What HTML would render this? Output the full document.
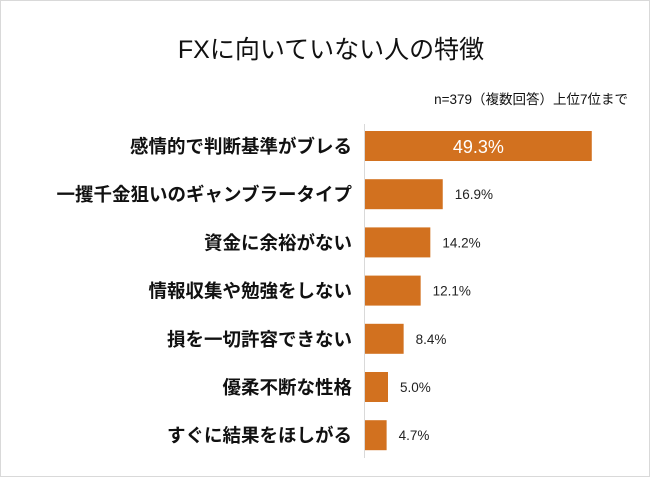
<!DOCTYPE html>
<html><head><meta charset="utf-8"><style>
html,body{margin:0;padding:0;background:#fff;}
body{width:650px;height:477px;overflow:hidden;font-family:"Liberation Sans","Noto Sans CJK JP",sans-serif;}
#frame{position:absolute;left:0;top:0;width:648px;height:475px;border:1px solid #d9d9d9;}
</style></head><body>
<div id="frame"></div>
<svg id="chart" width="650" height="477" style="position:absolute;left:0;top:0">
<text x="331" y="58" text-anchor="middle" font-size="25" fill="#111">FXに向いていない人の特徴</text>
<text x="628" y="104" text-anchor="end" font-size="13.5" fill="#111">n=379（複数回答）上位7位まで</text>
<line x1="364.5" y1="124" x2="364.5" y2="458" stroke="#d9d9d9" stroke-width="1"/>
<g id="bars"></g>
</svg>
<script>
const categories=["感情的で判断基準がブレる","一攫千金狙いのギャンブラータイプ","資金に余裕がない","情報収集や勉強をしない","損を一切許容できない","優柔不断な性格","すぐに結果をほしがる"];
const values=[49.3,16.9,14.2,12.1,8.4,5.0,4.7];
const valueLabels=["49.3%","16.9%","14.2%","12.1%","8.4%","5.0%","4.7%"];
const x0=365,pxPer=4.6,yTop=146,step=48.2,bh=30;
const xs=v=>x0+v*pxPer, ys=i=>yTop+i*step;
const g=document.getElementById('bars');const NS="http://www.w3.org/2000/svg";
categories.forEach((c,i)=>{
 const cy=ys(i);
 const r=document.createElementNS(NS,'rect');
 r.setAttribute('x',x0);r.setAttribute('y',cy-bh/2);r.setAttribute('width',xs(values[i])-x0);r.setAttribute('height',bh);r.setAttribute('fill','#d2711f');
 
 
 g.appendChild(r);
 const t=document.createElementNS(NS,'text');
 t.setAttribute('x',352);t.setAttribute('y',cy+7);t.setAttribute('text-anchor','end');t.setAttribute('font-size','18.5');t.setAttribute('font-weight','bold');t.setAttribute('fill','#111');t.textContent=c;
 
 
 g.appendChild(t);
 const v=document.createElementNS(NS,'text');
 if(i===0){v.setAttribute('x',(x0+xs(values[i]))/2);v.setAttribute('text-anchor','middle');v.setAttribute('font-size','18');v.setAttribute('fill','#fff');v.setAttribute('y',cy+7);}
 else{v.setAttribute('x',xs(values[i])+12);v.setAttribute('font-size','13.5');v.setAttribute('fill','#222');v.setAttribute('y',cy+5);}
 v.textContent=valueLabels[i];
 
 
 g.appendChild(v);
});
</script>
</body></html>
